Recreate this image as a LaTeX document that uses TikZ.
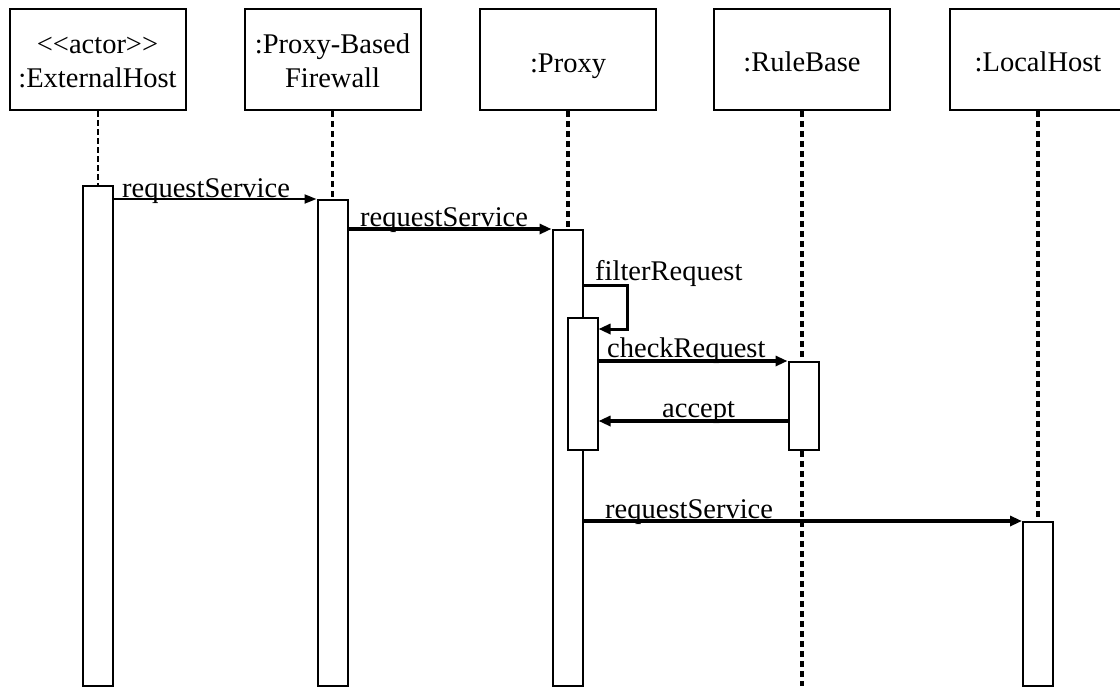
\documentclass[tikz,border=0pt]{standalone}
\usepackage{fontspec}
\setmainfont{Liberation Serif}
\usetikzlibrary{arrows.meta}
\pgfdeclarelayer{bg}
\pgfsetlayers{bg,main}
\tikzset{
  objbox/.style={draw, line width=2pt, minimum width=176pt, minimum height=101pt, inner sep=0pt},
  lbl/.style={anchor=base, inner sep=0pt, font=\fontsize{28.5}{34}\selectfont},
  msglbl/.style={anchor=base west, inner sep=0pt, font=\fontsize{28.5}{34}\selectfont},
  act/.style={draw, fill=white, line width=2pt, minimum width=30pt, inner sep=0pt, anchor=north},
  lifethin/.style={line width=2pt, dash pattern=on 6pt off 3pt},
  lifethick/.style={line width=3.5pt, dash pattern=on 6pt off 4pt},
  msgthin/.style={line width=2pt, -{Triangle[length=12pt,width=9pt]}},
  msgthick/.style={line width=3.5pt, -{Triangle[length=12pt,width=10pt]}},
}
\begin{document}
\begin{tikzpicture}[x=1pt,y=-1pt]
\clip (0,0) rectangle (1120,686);
\useasboundingbox (0,0) rectangle (1120,686);

% object boxes
\node[objbox] (b1) at (97.5,59.5) {};
\node[objbox] (b2) at (332.5,59.5) {};
\node[objbox] (b3) at (568,59.5) {};
\node[objbox] (b4) at (802,59.5) {};
\node[objbox] (b5) at (1038,59.5) {};

\node[lbl] (t1a) at (97.5,53) {<\kern0pt<actor>\kern0pt>};
\node[lbl] (t1b) at (97.5,87) {:ExternalHost};
\node[lbl] (t2a) at (332.5,53) {:Proxy-Based};
\node[lbl] (t2b) at (332.5,87) {Firewall};
\node[lbl] (t3) at (568,72) {:Proxy};
\node[lbl] (t4) at (802,71) {:RuleBase};
\node[lbl] (t5) at (1038,71) {:LocalHost};

\coordinate (rbEnd) at (802,686);

% activation boxes
\node[act, minimum height=500pt] (a1) at (97.5,185) {};
\node[act, minimum height=486pt] (a2) at (332.5,199) {};
\node[act, minimum height=456pt] (a3) at (567.5,229) {};
\node[act, minimum height=132pt] (a4) at (582.5,317) {};
\node[act, minimum height=88pt] (a5) at (803.5,361) {};
\node[act, minimum height=164pt] (a6) at (1038,521) {};

% lifelines
\begin{pgfonlayer}{bg}
\draw[lifethin] (b1.south) -- (b1.south |- a1.north);
\draw[lifethick] (b2.south) -- (b2.south |- a2.north);
\draw[lifethick] (b3.south) -- (b3.south |- a3.north);
\draw[lifethick] (b4.south) -- (b4.south |- a5.north);
\draw[lifethick] (b4.south |- a5.south) -- (rbEnd);
\draw[lifethick] (b5.south) -- (b5.south |- a6.north);
\end{pgfonlayer}

% messages
\draw[msgthin] (a1.east |- a2.north) -- (a2.north west);
\node[msglbl] (m1) at (122,197) {requestService};

\draw[msgthick] (a2.east |- a3.north) -- (a3.north west);
\node[msglbl] (m2) at (360,226) {requestService};

\coordinate (sc1) at (627,285);
\coordinate (sc2) at (627,329);
\draw[line width=3pt, -{Triangle[length=12pt,width=10pt]}] (a3.east |- sc1) -- (sc1) -- (sc2) -- (a4.east |- sc2);
\node[msglbl] (m3) at (595,280) {filterRequest};

\draw[msgthick] (a4.east |- a5.north) -- (a5.north west);
\node[msglbl] (m4) at (607,357) {checkRequest};

\coordinate (acc) at (700,421);
\draw[msgthick] (a5.west |- acc) -- (a4.east |- acc);
\node[msglbl] (m5) at (662,417) {accept};

\draw[msgthick] (a3.east |- a6.north) -- (a6.north west);
\node[msglbl] (m6) at (605,518) {requestService};
\end{tikzpicture}
\end{document}
